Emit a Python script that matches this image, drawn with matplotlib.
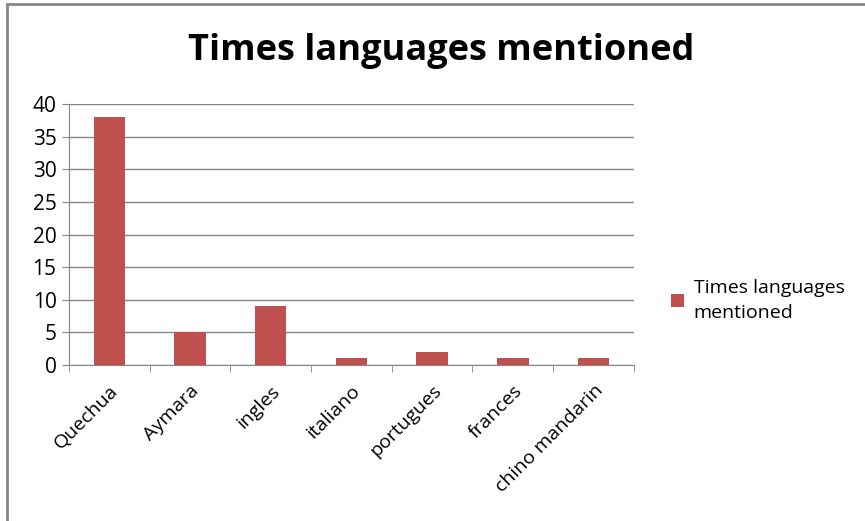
import matplotlib.pyplot as plt
import numpy as np
from matplotlib.patches import Rectangle

languages = ['Quechua', 'Aymara', 'ingles', 'italiano', 'portugues', 'frances', 'chino mandarin']
times_mentioned = [38, 5, 9, 1, 2, 1, 1]
series_name = 'Times languages mentioned'

bar_color = '#C0504D'
grid_color = '#868686'

plt.rcParams['font.family'] = ['Open Sans', 'DejaVu Sans']

fig = plt.figure(figsize=(8.65, 5.21), dpi=100)
ax = fig.add_axes([0.0798, 0.2994, 0.653, 0.501])

x = np.arange(len(languages))
ax.bar(x, times_mentioned, width=0.39, color=bar_color, zorder=3, label=series_name)

ax.set_xlim(-0.5, len(languages) - 0.5)
ax.set_ylim(0, 40)
ax.set_yticks(range(0, 41, 5))
ax.yaxis.grid(True, color=grid_color, linewidth=1, zorder=0)

ax.set_xticks(x)
ax.set_xticklabels(languages, rotation=45, ha='right', rotation_mode='anchor', fontsize=14)
ax.set_xticks(np.arange(-0.5, len(languages)), minor=True)
ax.tick_params(axis='x', which='major', length=0, pad=12)
ax.tick_params(axis='x', which='minor', length=5, color=grid_color, direction='out')
ax.tick_params(axis='y', length=5, color=grid_color, labelsize=15, pad=4)

for side in ['top', 'right']:
    ax.spines[side].set_visible(False)
for side in ['left', 'bottom']:
    ax.spines[side].set_color(grid_color)

fig.text(0.510, 0.902, series_name, ha='center', va='center', fontsize=26, fontweight='bold')

leg = fig.legend(loc='center left', bbox_to_anchor=(0.756, 0.423), frameon=False,
                 fontsize=14, handlelength=0.65, handleheight=0.65, handletextpad=0.5)
leg.get_texts()[0].set_text('Times languages\nmentioned')
leg.get_texts()[0].set_linespacing(1.45)

# outer chart border like the spreadsheet frame
fig.patches.append(Rectangle((0.008, -0.05), 1.1, 1.043, transform=fig.transFigure,
                             fill=False, edgecolor='#868686', linewidth=2))

fig.savefig('out.png', dpi=100)
